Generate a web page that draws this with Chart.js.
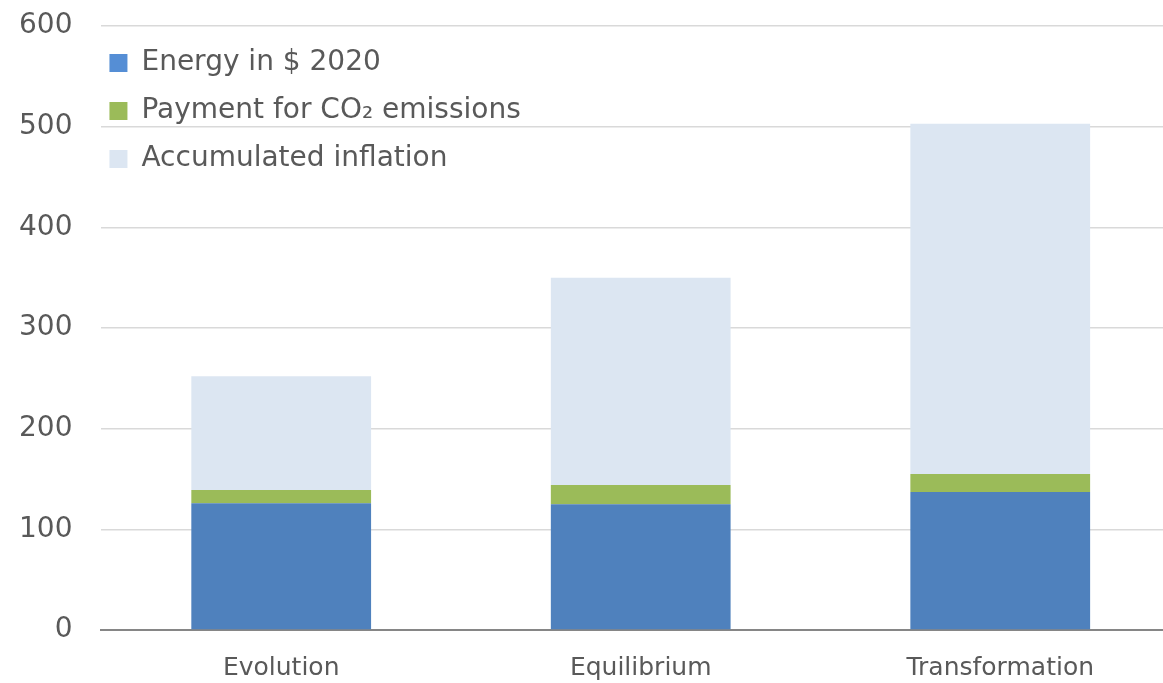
<!DOCTYPE html>
<html>
<head>
<meta charset="utf-8">
<script src="https://cdn.jsdelivr.net/npm/chart.js@4"></script>
<style>
    html, body { margin: 0; padding: 0; background: #fff; overflow: hidden; }
    #wrap { width: 1180px; height: 683px; position: relative; }
</style>
</head>
<body>
<div id="wrap"><canvas id="costChart"></canvas></div>
<script>
const scenarios = ['Evolution', 'Equilibrium', 'Transformation'];
const energy2020 = [126, 125, 137];
const co2Payment = [13, 19, 18];
const inflation = [113, 206, 348];
const yTicks = [0, 100, 200, 300, 400, 500, 600];

const font = 'DejaVu Sans';
const textColor = '#595959';
// the legend swatches are a touch brighter than the bars
const legendSwatches = ['#558ED5', '#9BBB59', '#DCE6F2'];

// legend sits inside the plot, a bit left of the default spot
const legendInside = {
    id: 'legendInside',
    afterLayout(chart) {
        chart.legend.left = chart.chartArea.left - 12;
        chart.legend.top = 29;
    }
};

const ctx = document.getElementById('costChart').getContext('2d');
new Chart(ctx, {
    type: 'bar',
    data: {
        labels: scenarios,
        datasets: [
            { label: 'Energy in $ 2020', data: energy2020, backgroundColor: '#4F81BD' },
            { label: 'Payment for CO₂ emissions', data: co2Payment, backgroundColor: '#9BBB59' },
            { label: 'Accumulated inflation', data: inflation, backgroundColor: '#DCE6F2' }
        ]
    },
    plugins: [legendInside],
    options: {
        responsive: true,
        maintainAspectRatio: false,
        animation: false,
        layout: { padding: { top: 26, left: -10, right: 0, bottom: -23 } },
        datasets: { bar: { categoryPercentage: 1, barPercentage: 0.5 } },
        plugins: {
            legend: {
                position: 'chartArea',
                align: 'start',
                labels: {
                    font: { family: font, size: 28 },
                    color: textColor,
                    boxWidth: 18,
                    boxHeight: 18,
                    padding: 20,
                    generateLabels: chart => {
                        const items = Chart.defaults.plugins.legend.labels.generateLabels(chart);
                        items.forEach((item, i) => {
                            item.fillStyle = legendSwatches[i];
                            item.strokeStyle = legendSwatches[i];
                            item.lineWidth = 0;
                        });
                        return items;
                    }
                }
            },
            tooltip: { enabled: false }
        },
        scales: {
            x: {
                stacked: true,
                grid: { display: false, drawTicks: false },
                border: { color: '#868686', width: 2 },
                ticks: { font: { family: font, size: 25 }, color: textColor, padding: 23 }
            },
            y: {
                stacked: true,
                min: 0,
                max: 600,
                afterBuildTicks: axis => { axis.ticks = yTicks.map(v => ({ value: v })); },
                afterFit: axis => { axis.paddingTop = 0; },
                grid: { color: '#D9D9D9', lineWidth: 1.5, drawTicks: false },
                border: { display: false },
                ticks: { font: { family: font, size: 28 }, color: textColor, padding: 29 }
            }
        }
    }
});
</script>
</body>
</html>
